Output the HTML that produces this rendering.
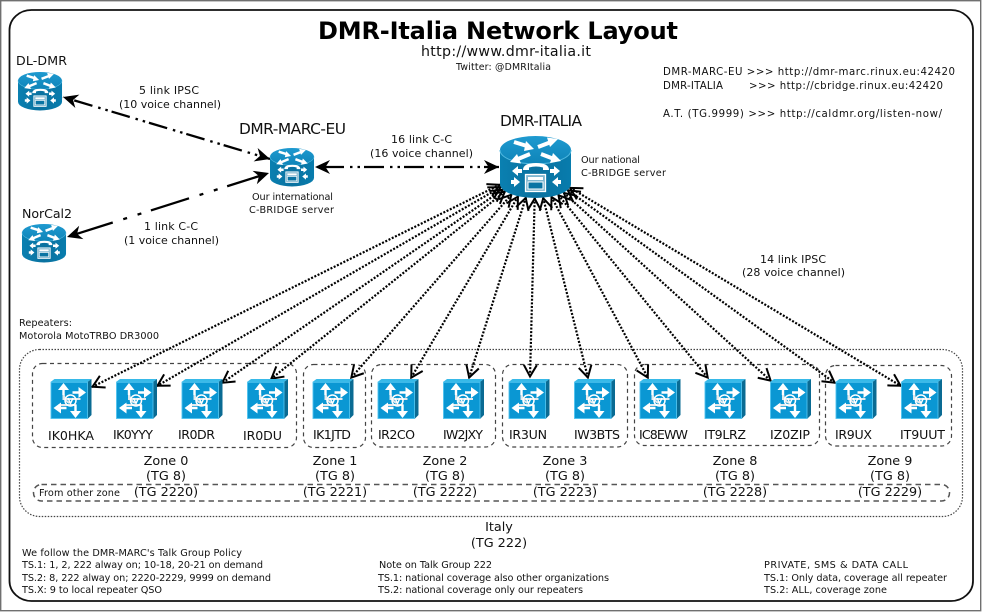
<!DOCTYPE html>
<html><head><meta charset="utf-8"><title>DMR-Italia Network Layout</title>
<style>html,body{margin:0;padding:0;background:#fff}svg{display:block}text{font-family:"DejaVu Sans",sans-serif;fill:#111}
.s9{font-size:9.7px}.s10{font-size:11px}.s10r{font-size:10.2px}.s12{font-size:12.6px}.s14{font-size:15.4px}.m{text-anchor:middle}</style></head><body>
<svg xmlns="http://www.w3.org/2000/svg" width="983" height="612" viewBox="0 0 983 612">
<defs>
<marker id="v" markerUnits="userSpaceOnUse" markerWidth="20" markerHeight="18" viewBox="-16 -9 20 18" refX="0" refY="0" orient="auto-start-reverse"><path d="M-12,-6.500L-0.500,0L-12,6.500" fill="none" stroke="#000" stroke-width="2"/></marker>
<marker id="f" markerUnits="userSpaceOnUse" markerWidth="20" markerHeight="18" viewBox="-17 -9 20 18" refX="0" refY="0" orient="auto-start-reverse"><path d="M0,0L-15,-7L-10.500,0L-15,7Z" fill="#000"/></marker>
<linearGradient id="rt" x1="0" y1="0" x2="0" y2="1"><stop offset="0" stop-color="#1f9ad0"/><stop offset="1" stop-color="#0e84b8"/></linearGradient>
<linearGradient id="rb" x1="0" y1="0" x2="1" y2="0"><stop offset="0" stop-color="#0a80b1"/><stop offset=".5" stop-color="#0a719f"/><stop offset="1" stop-color="#087cad"/></linearGradient>
<g id="router">
<path d="M0,14V48A35.500,14 0 0 0 71,48V14Z" fill="url(#rb)"/>
<ellipse cx="35.500" cy="14" rx="35.500" ry="14" fill="url(#rt)"/>
<path d="M0,14A35.500,14 0 0 0 71,14" fill="none" stroke="#4fb8e0" stroke-width="1"/>
<g fill="none" stroke="#fff" stroke-width="4">
<path d="M14,6L27,10"/><path d="M38,11L51,6"/><path d="M30,18L18,23"/><path d="M41,18L54,23"/></g>
<g fill="#fff"><path d="M34,13L24,15L26,5Z"/><path d="M58,3L47,1.500L50,11Z"/><path d="M10,26L21,27.500L17,18Z"/><path d="M61,25L50,27L53,17Z"/></g>
<path d="M23,34Q23,27 36,27Q49,27 49,34L43,34L43,31.500Q36,29.500 29,31.500L29,34Z" fill="#fff"/>
<rect x="25.500" y="38.500" width="20" height="17" fill="#7fb6cf" stroke="#fff" stroke-width="1.300"/>
<rect x="28" y="41" width="15" height="3" fill="#fff"/><rect x="28" y="46" width="15" height="7" fill="#0a74a3" stroke="#fff"/>
<g fill="#fff"><path d="M12,35L18,30V33H22V37H18V40Z"/><path d="M60,35L54,30V33H50V37H54V40Z"/><path d="M20,46L14,41V44H11V48H14V51Z"/><path d="M52,46L58,41V44H61V48H58V51Z"/></g>
</g>
<g id="sw">
<path d="M0,3L4,0H41L37,3Z" fill="#37b9e8"/>
<path d="M37,3L41,0V36L37,40Z" fill="#0a6b93"/>
<rect x=".5" y="3.300" width="36.500" height="36.200" fill="#0a97d3" stroke="#4fc3ef" stroke-width=".9"/>
<g fill="none" stroke="#e4e9ec" stroke-width="2"><path d="M13,9V20H30"/><path d="M25,34V26H8"/><path d="M13,15Q14,22 19,24"/></g>
<circle cx="20" cy="21.500" r="5.500" fill="none" stroke="#fff" stroke-width="1.500"/>
<path d="M17.500,19L20,24.500L22.500,19" fill="none" stroke="#fff" stroke-width="1.500"/>
<g fill="#fff"><path d="M13,4L7.500,11H18.500Z"/><path d="M35.500,13.500L28,8V19Z"/><path d="M3,29L10.500,23.500V34.500Z"/><path d="M25,39L19.500,32H30.500Z"/></g>
<path d="M13,9V16M30,13.500H22M8,29H16M25,32V26" stroke="#fff" stroke-width="2.400" fill="none"/>
</g>
</defs>
<rect width="983" height="612" fill="#fff"/>
<rect x=".7" y=".7" width="980" height="610" fill="none" stroke="#707070" stroke-width="1.400"/>
<rect x="9.500" y="10" width="963.500" height="591" rx="22" ry="20" fill="#fff" stroke="#111" stroke-width="1.800"/>

<rect x="19.500" y="349.500" width="943" height="167" rx="20" fill="none" stroke="#444" stroke-width="1.200" stroke-dasharray="1.500 1.500"/>
<g fill="none" stroke="#444" stroke-width="1.200" stroke-dasharray="4 3.500">
<rect x="32.500" y="363.500" width="264" height="84" rx="10"/>
<rect x="303.500" y="364.500" width="62" height="83" rx="10"/>
<rect x="371.500" y="364.500" width="124" height="82.500" rx="10"/>
<rect x="502.500" y="364.500" width="125" height="82.500" rx="10"/>
<rect x="634.500" y="364.500" width="185" height="81" rx="10"/>
<rect x="825.500" y="365.500" width="126" height="80.500" rx="10"/>
</g>
<rect x="33.500" y="484.500" width="916" height="16.500" rx="8" fill="none" stroke="#555" stroke-width="1.500" stroke-dasharray="5.500 4"/>

<g fill="none" stroke="#000" stroke-width="2.200" stroke-dasharray="2 1.600" marker-start="url(#v)" marker-end="url(#v)">
<path d="M500,184.600L92,387"/>
<path d="M500.900,187L157,386"/>
<path d="M502.900,189.500L222,383"/>
<path d="M505.200,191.300L271,379"/>
<path d="M511.600,194.400L351,378"/>
<path d="M518.200,196.200L411,378"/>
<path d="M525.900,197.500L469,378"/>
<path d="M534.700,198L530,377"/>
<path d="M543.100,197.700L588,378"/>
<path d="M551.300,196.600L648,378"/>
<path d="M558.200,194.800L708,378"/>
<path d="M563.600,192.600L771,381"/>
<path d="M567.500,190L835,383"/>
<path d="M569.800,187.600L901,386"/>
</g>
<g fill="none" stroke="#000" stroke-width="2.300" marker-start="url(#f)" marker-end="url(#f)">
<path d="M63,97L270,159" stroke-dasharray="19 6 2.500 5 2.500 4" stroke-dashoffset="-11.700"/>
<path d="M67,237L269,173" stroke-dasharray="40 11 4 11 4 10" stroke-dashoffset="-8"/>
<path d="M315,167L499,167" stroke-dasharray="20 6 2.500 5 2.500 4" stroke-dashoffset="-9"/>
</g>

<use href="#router" transform="translate(500,136)"/>
<use href="#router" transform="translate(18,72) scale(.62)"/>
<use href="#router" transform="translate(270,148) scale(.62)"/>
<use href="#router" transform="translate(22,224) scale(.62)"/>
<use href="#sw" x="50.500" y="379"/><use href="#sw" x="116" y="379"/><use href="#sw" x="181.500" y="379"/><use href="#sw" x="247" y="379"/><use href="#sw" x="312.500" y="379"/>
<use href="#sw" x="377.500" y="379"/><use href="#sw" x="443" y="379"/><use href="#sw" x="508.500" y="379"/><use href="#sw" x="574" y="379"/><use href="#sw" x="639.500" y="379"/>
<use href="#sw" x="704.500" y="379"/><use href="#sw" x="770" y="379"/><use href="#sw" x="835.500" y="379"/><use href="#sw" x="901" y="379"/>

<text x="318" y="39" font-size="24" font-weight="bold" textLength="360" style="fill:#000">DMR-Italia Network Layout</text>
<text x="421" y="56" font-size="14.2" textLength="170">http://www.dmr-italia.it</text>
<text x="456" y="70" font-size="9.4" textLength="95">Twitter: @DMRItalia</text>
<text x="16" y="65" class="s12" textLength="51">DL-DMR</text>
<text x="22" y="218" class="s12" textLength="50">NorCal2</text>
<text x="239" y="134" class="s14" textLength="107">DMR-MARC-EU</text>
<text x="500" y="126" class="s14" textLength="82">DMR-ITALIA</text>
<text x="139" y="94" class="s10" textLength="60">5 link IPSC</text>
<text x="119" y="108" class="s10" textLength="102">(10 voice channel)</text>
<text x="144" y="230" class="s10" textLength="54">1 link C-C</text>
<text x="124" y="244" class="s10" textLength="95">(1 voice channel)</text>
<text x="391" y="143" class="s10" textLength="61">16 link C-C</text>
<text x="370" y="157" class="s10" textLength="103">(16 voice channel)</text>
<text x="760" y="263" class="s10" textLength="66">14 link IPSC</text>
<text x="742" y="276" class="s10" textLength="103">(28 voice channel)</text>
<text x="252" y="200" class="s9" textLength="81">Our international</text>
<text x="249" y="213" class="s9" textLength="85">C-BRIDGE server</text>
<text x="581" y="163" class="s9" textLength="59">Our national</text>
<text x="581" y="176" class="s9" textLength="85">C-BRIDGE server</text>
<text x="663" y="75" class="s10r" textLength="292">DMR-MARC-EU &gt;&gt;&gt; http://dmr-marc.rinux.eu:42420</text>
<text x="663" y="89" class="s10r" textLength="60">DMR-ITALIA</text>
<text x="749" y="89" class="s10r" textLength="194">&gt;&gt;&gt; http://cbridge.rinux.eu:42420</text>
<text x="663" y="117" class="s10r" textLength="279">A.T. (TG.9999) &gt;&gt;&gt; http://caldmr.org/listen-now/</text>
<text x="19" y="326" class="s9" textLength="53">Repeaters:</text>
<text x="19" y="339" class="s9" textLength="140">Motorola MotoTRBO DR3000</text>

<g class="s12">
<text x="48" y="440" textLength="46">IK0HKA</text><text x="113" y="439" textLength="40">IK0YYY</text><text x="178" y="439" textLength="37">IR0DR</text><text x="243" y="440" textLength="39">IR0DU</text><text x="313" y="439" textLength="38">IK1JTD</text>
<text x="378" y="439" textLength="37">IR2CO</text><text x="443" y="439" textLength="40">IW2JXY</text><text x="509" y="439" textLength="38">IR3UN</text><text x="574" y="439" textLength="46">IW3BTS</text><text x="639" y="439" textLength="49">IC8EWW</text>
<text x="704" y="439" textLength="42">IT9LRZ</text><text x="770" y="439" textLength="40">IZ0ZIP</text><text x="835" y="439" textLength="37">IR9UX</text><text x="900" y="439" textLength="45">IT9UUT</text>
</g>
<g class="s12 m" style="font-size:12.8px">
<text x="166" y="465">Zone 0</text><text x="166" y="480">(TG 8)</text><text x="166" y="496">(TG 2220)</text>
<text x="335" y="465">Zone 1</text><text x="335" y="480">(TG 8)</text><text x="335" y="496">(TG 2221)</text>
<text x="445" y="465">Zone 2</text><text x="445" y="480">(TG 8)</text><text x="445" y="496">(TG 2222)</text>
<text x="565" y="465">Zone 3</text><text x="565" y="480">(TG 8)</text><text x="565" y="496">(TG 2223)</text>
<text x="735" y="465">Zone 8</text><text x="735" y="480">(TG 8)</text><text x="735" y="496">(TG 2228)</text>
<text x="890" y="465">Zone 9</text><text x="890" y="480">(TG 8)</text><text x="890" y="496">(TG 2229)</text>
<text x="499" y="531">Italy</text><text x="499" y="547">(TG 222)</text>
</g>
<text x="39" y="496" class="s9" textLength="81">From other zone</text>
<g class="s9">
<text x="22" y="556" textLength="220">We follow the DMR-MARC's Talk Group Policy</text>
<text x="22" y="568" textLength="241">TS.1: 1, 2, 222 alway on; 10-18, 20-21 on demand</text>
<text x="22" y="581" textLength="249">TS.2: 8, 222 alway on; 2220-2229, 9999 on demand</text>
<text x="22" y="593" textLength="140">TS.X: 9 to local repeater QSO</text>
<text x="379" y="568" textLength="113">Note on Talk Group 222</text>
<text x="378" y="581" textLength="231">TS.1: national coverage also other organizations</text>
<text x="378" y="593" textLength="205">TS.2: national coverage only our repeaters</text>
<text x="764" y="568" textLength="144">PRIVATE, SMS &amp; DATA CALL</text>
<text x="764" y="581" textLength="183">TS.1: Only data, coverage all repeater</text>
<text x="764" y="593" textLength="123">TS.2: ALL, coverage zone</text>
</g>
</svg>
</body></html>
